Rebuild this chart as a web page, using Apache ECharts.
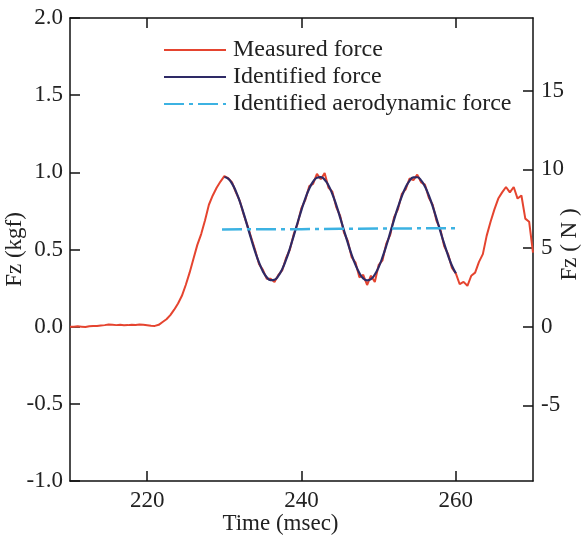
<!DOCTYPE html>
<html>
<head>
<meta charset="utf-8">
<title>Fz</title>
<script src="https://cdn.jsdelivr.net/npm/echarts@6/dist/echarts.min.js"></script>
<style>
	html, body { margin: 0; padding: 0; background: #fff; }
	#charts { width: 586px; height: 536px; }
</style>
</head>
<body>
<div id="charts"></div>
<script>
// 时间轴 (msec)
var measuredTime = [
	210, 210.5, 211, 211.5, 212, 212.5, 213, 213.5, 214, 214.5,
	215, 215.5, 216, 216.5, 217, 217.5, 218, 218.5, 219, 219.5,
	220, 220.5, 221, 221.5, 222, 222.5, 223, 223.5, 224, 224.5,
	225, 225.5, 226, 226.5, 227, 227.5, 228, 228.5, 229, 229.5,
	230, 230.5, 231, 231.5, 232, 232.5, 233, 233.5, 234, 234.5,
	235, 235.5, 236, 236.5, 237, 237.5, 238, 238.5, 239, 239.5,
	240, 240.5, 241, 241.5, 242, 242.5, 243, 243.5, 244, 244.5,
	245, 245.5, 246, 246.5, 247, 247.5, 248, 248.5, 249, 249.5,
	250, 250.5, 251, 251.5, 252, 252.5, 253, 253.5, 254, 254.5,
	255, 255.5, 256, 256.5, 257, 257.5, 258, 258.5, 259, 259.5,
	260, 260.5, 261, 261.5, 262, 262.5, 263, 263.5, 264, 264.5,
	265, 265.5, 266, 266.5, 267, 267.5, 268, 268.5, 269, 269.5, 270
];
// 实测力 (kgf)
var measuredForce = [
	0.000, 0.000, 0.002, 0.000, -0.002, 0.003, 0.005, 0.004, 0.008, 0.010,
	0.014, 0.012, 0.010, 0.012, 0.009, 0.010, 0.012, 0.011, 0.014, 0.012,
	0.009, 0.006, 0.005, 0.012, 0.030, 0.048, 0.075, 0.110, 0.150, 0.200,
	0.270, 0.350, 0.440, 0.530, 0.600, 0.690, 0.790, 0.850, 0.900, 0.940,
	0.975, 0.962, 0.935, 0.870, 0.815, 0.728, 0.655, 0.575, 0.495, 0.405,
	0.368, 0.310, 0.310, 0.290, 0.335, 0.365, 0.445, 0.500, 0.600, 0.668,
	0.770, 0.822, 0.910, 0.925, 0.990, 0.955, 0.995, 0.900, 0.875, 0.775,
	0.720, 0.610, 0.555, 0.450, 0.415, 0.320, 0.335, 0.270, 0.330, 0.290,
	0.400, 0.430, 0.540, 0.595, 0.710, 0.760, 0.860, 0.890, 0.960, 0.950,
	0.985, 0.935, 0.920, 0.835, 0.790, 0.685, 0.630, 0.520, 0.470, 0.380,
	0.345, 0.275, 0.290, 0.265, 0.330, 0.350, 0.420, 0.470, 0.590, 0.680,
	0.760, 0.830, 0.870, 0.905, 0.870, 0.905, 0.830, 0.850, 0.700, 0.680, 0.480
];
// 识别力
var identifiedTime = [
	230, 230.5, 231, 231.5, 232, 232.5, 233, 233.5, 234, 234.5,
	235, 235.5, 236, 236.5, 237, 237.5, 238, 238.5, 239, 239.5,
	240, 240.5, 241, 241.5, 242, 242.5, 243, 243.5, 244, 244.5,
	245, 245.5, 246, 246.5, 247, 247.5, 248, 248.5, 249, 249.5,
	250, 250.5, 251, 251.5, 252, 252.5, 253, 253.5, 254, 254.5,
	255, 255.5, 256, 256.5, 257, 257.5, 258, 258.5, 259, 259.5, 260
];
var identifiedForce = [
	0.970, 0.959, 0.927, 0.877, 0.811, 0.734, 0.650, 0.565, 0.485, 0.415,
	0.358, 0.320, 0.301, 0.304, 0.329, 0.373, 0.434, 0.508, 0.590, 0.675,
	0.757, 0.832, 0.894, 0.939, 0.965, 0.969, 0.952, 0.915, 0.859, 0.789,
	0.708, 0.625, 0.543, 0.466, 0.400, 0.348, 0.313, 0.300, 0.308, 0.338,
	0.386, 0.450, 0.526, 0.609, 0.694, 0.774, 0.844, 0.903, 0.945, 0.967,
	0.968, 0.948, 0.908, 0.850, 0.780, 0.700, 0.617, 0.536, 0.461, 0.395, 0.346
];
// 识别气动力
var aeroTime = [229.7, 235, 240, 245, 250, 255, 260];
var aeroForce = [0.630, 0.631, 0.632, 0.634, 0.636, 0.637, 0.638];

// 刻度
var timeTicks = [220, 240, 260];
var newtonTicks = [-5, 0, 5, 10, 15];
var KGF = 9.80665;

var FONT = 'Liberation Serif';

function pairs(xs, ys) {
	var out = [];
	for (var i = 0; i < xs.length; i++) {
		out.push([xs[i], ys[i]]);
	}
	return out;
}

var ForceChart = {

	init: function () {
		this.renderChart();
	},

	renderChart: function () {
		var myChart = echarts.init(document.getElementById('charts'), null, { renderer: 'canvas' });
		var axisLine = { show: true, onZero: false, lineStyle: { color: '#111', width: 1.5 } };
		var tickStyle = { color: '#111', width: 1.5 };
		var labelStyle = { color: '#222', fontFamily: FONT, fontSize: 23 };

		var option = {
			animation: false,
			backgroundColor: '#fff',
			grid: { left: 70, top: 18, right: 53, bottom: 55, outerBoundsMode: 'none', containLabel: false },
			legend: {
				orient: 'vertical',
				left: 158,
				top: 33,
				itemWidth: 62,
				itemHeight: 14,
				itemGap: 3,
				itemStyle: { opacity: 0 },
				textStyle: { color: '#222', fontFamily: FONT, fontSize: 24, padding: [0, 0, 0, 2] },
				data: ['Measured force', 'Identified force', 'Identified aerodynamic force']
			},
			xAxis: [{
				type: 'value',
				min: 210,
				max: 270,
				name: 'Time (msec)',
				nameLocation: 'middle',
				nameGap: 31,
				nameMoveOverlap: false,
				nameTextStyle: { color: '#222', fontFamily: FONT, fontSize: 23, padding: [0, 42, 0, 0] },
				axisLine: axisLine,
				axisTick: { inside: true, length: 10, customValues: timeTicks, lineStyle: tickStyle },
				axisLabel: { customValues: timeTicks, margin: 8, color: '#222', fontFamily: FONT, fontSize: 23 },
				splitLine: { show: false }
			}, {
				type: 'value',
				position: 'top',
				min: 210,
				max: 270,
				axisLine: axisLine,
				axisTick: { inside: true, length: 10, customValues: timeTicks, lineStyle: tickStyle },
				axisLabel: { show: false },
				splitLine: { show: false }
			}],
			yAxis: [{
				type: 'value',
				min: -1,
				max: 2,
				interval: 0.5,
				name: 'Fz (kgf)',
				nameLocation: 'middle',
				nameGap: 44,
				nameMoveOverlap: false,
				nameTextStyle: labelStyle,
				axisLine: axisLine,
				axisTick: { inside: true, length: 10, lineStyle: tickStyle },
				axisLabel: {
					margin: 7, color: '#222', fontFamily: FONT, fontSize: 23,
					formatter: function (v) { return v.toFixed(1); }
				},
				splitLine: { show: false }
			}, {
				type: 'value',
				position: 'right',
				min: -1 * KGF,
				max: 2 * KGF,
				name: 'Fz ( N )',
				nameLocation: 'middle',
				nameGap: 25,
				nameRotate: 90,
				nameMoveOverlap: false,
				nameTextStyle: { color: '#222', fontFamily: FONT, fontSize: 23, padding: [0, 0, 0, 10] },
				axisLine: axisLine,
				axisTick: { inside: true, length: 10, customValues: newtonTicks, lineStyle: tickStyle },
				axisLabel: { customValues: newtonTicks, margin: 8, color: '#222', fontFamily: FONT, fontSize: 23 },
				splitLine: { show: false }
			}],
			series: [{
				name: 'Measured force',
				type: 'line',
				symbol: 'none',
				color: '#e5442f',
				lineStyle: { width: 2 },
				data: pairs(measuredTime, measuredForce)
			}, {
				name: 'Identified force',
				type: 'line',
				symbol: 'none',
				smooth: true,
				color: '#2e2a66',
				lineStyle: { width: 2.2 },
				data: pairs(identifiedTime, identifiedForce)
			}, {
				name: 'Identified aerodynamic force',
				type: 'line',
				symbol: 'none',
				color: '#3cb2e2',
				lineStyle: { width: 2.5, type: [20, 5, 4, 5] },
				data: pairs(aeroTime, aeroForce)
			}]
		};

		myChart.setOption(option);
	}
};

ForceChart.init();
</script>
</body>
</html>
